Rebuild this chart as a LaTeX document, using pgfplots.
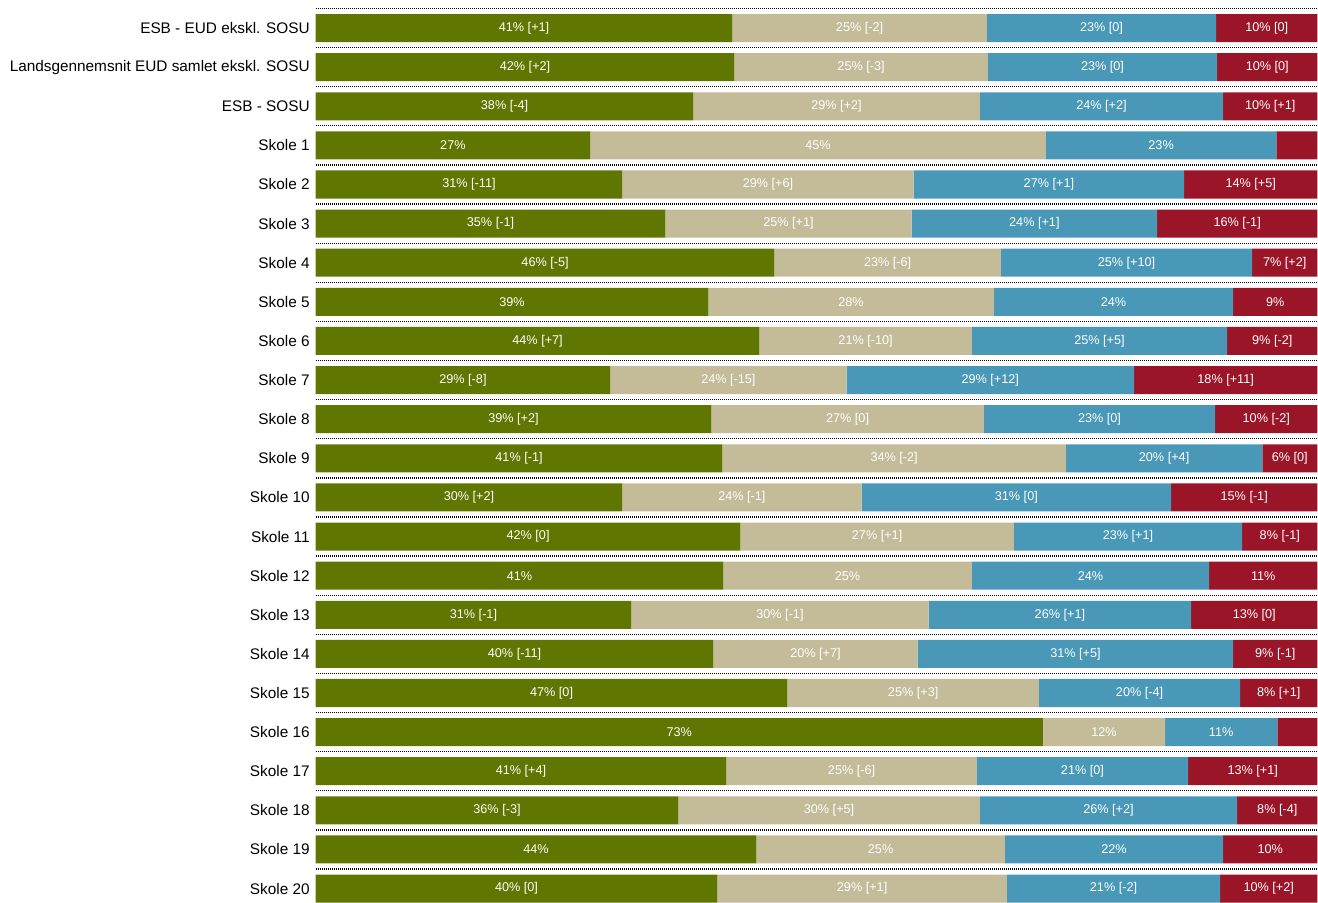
\documentclass[border=0pt]{standalone}
\usepackage{pgfplots}
\pgfplotsset{compat=1.18}
\usepackage{pgfplotstable}
\usepackage{fontspec}
\setmainfont{Liberation Sans}

\definecolor{cgreen}{RGB}{95,118,0}
\definecolor{ctan}{RGB}{196,188,153}
\definecolor{cblue}{RGB}{74,152,183}
\definecolor{cred}{RGB}{155,21,40}

% shares, labels as printed on the bars
\pgfplotstableread{
idx g t b r lg lt lb lr
0 41.6 25.4 22.9 10.1 {41\% [+1]} {25\% [-2]} {23\% [0]} {10\% [0]}
1 41.8 25.3 22.9 10.0 {42\% [+2]} {25\% [-3]} {23\% [0]} {10\% [0]}
2 37.7 28.6 24.3 9.4 {38\% [-4]} {29\% [+2]} {24\% [+2]} {10\% [+1]}
3 27.4 45.5 23.0 4.1 {27\%} {45\%} {23\%} {}
4 30.6 29.1 27.0 13.3 {31\% [-11]} {29\% [+6]} {27\% [+1]} {14\% [+5]}
5 34.9 24.6 24.5 16.0 {35\% [-1]} {25\% [+1]} {24\% [+1]} {16\% [-1]}
6 45.8 22.6 25.1 6.5 {46\% [-5]} {23\% [-6]} {25\% [+10]} {7\% [+2]}
7 39.2 28.5 23.9 8.4 {39\%} {28\%} {24\%} {9\%}
8 44.3 21.2 25.5 9.0 {44\% [+7]} {21\% [-10]} {25\% [+5]} {9\% [-2]}
9 29.4 23.6 28.7 18.3 {29\% [-8]} {24\% [-15]} {29\% [+12]} {18\% [+11]}
10 39.5 27.2 23.1 10.2 {39\% [+2]} {27\% [0]} {23\% [0]} {10\% [-2]}
11 40.6 34.3 19.6 5.5 {41\% [-1]} {34\% [-2]} {20\% [+4]} {6\% [0]}
12 30.6 23.9 30.9 14.6 {30\% [+2]} {24\% [-1]} {31\% [0]} {15\% [-1]}
13 42.4 27.3 22.8 7.5 {42\% [0]} {27\% [+1]} {23\% [+1]} {8\% [-1]}
14 40.7 24.8 23.7 10.8 {41\%} {25\%} {24\%} {11\%}
15 31.5 29.7 26.2 12.6 {31\% [-1]} {30\% [-1]} {26\% [+1]} {13\% [0]}
16 39.7 20.4 31.5 8.4 {40\% [-11]} {20\% [+7]} {31\% [+5]} {9\% [-1]}
17 47.1 25.1 20.1 7.7 {47\% [0]} {25\% [+3]} {20\% [-4]} {8\% [+1]}
18 72.6 12.2 11.2 4.0 {73\%} {12\%} {11\%} {}
19 41.0 25.0 21.1 12.9 {41\% [+4]} {25\% [-6]} {21\% [0]} {13\% [+1]}
20 36.2 30.1 25.7 8.0 {36\% [-3]} {30\% [+5]} {26\% [+2]} {8\% [-4]}
21 44.0 24.8 21.8 9.4 {44\%} {25\%} {22\%} {10\%}
22 40.1 28.9 21.3 9.7 {40\% [0]} {29\% [+1]} {21\% [-2]} {10\% [+2]}
}\datatable

\begin{document}
\begin{tikzpicture}
\begin{axis}[
  xbar stacked,
  scale only axis,
  width=750.75pt, height=676.5pt,
  bar width=21pt,
  xmin=0, xmax=100,
  ymin=-0.717, ymax=22.358,
  y dir=reverse,
  axis line style={draw=none},
  hide x axis,
  ytick={0,...,22},
  yticklabels={
    ESB - EUD ekskl. SOSU,
    Landsgennemsnit EUD samlet ekskl. SOSU,
    ESB - SOSU,
    Skole 1, Skole 2, Skole 3, Skole 4, Skole 5, Skole 6, Skole 7,
    Skole 8, Skole 9, Skole 10, Skole 11, Skole 12, Skole 13, Skole 14,
    Skole 15, Skole 16, Skole 17, Skole 18, Skole 19, Skole 20},
  yticklabel style={font=\fontsize{11.5}{13}\selectfont, anchor=east, xshift=-1pt},
  major tick length=0pt,
  minor tick length=0pt,
  minor ytick={-0.5,0.5,...,21.5},
  yminorgrids,
  minor grid style={black, line width=1pt, dash pattern=on 0.75pt off 0.75pt},
  nodes near coords,
  point meta=explicit symbolic,
  every node near coord/.append style={
    anchor=center, text=white,
    font=\fontsize{9.5}{11}\selectfont},
]
\addplot[fill=cgreen, draw=none] table[x=g, y=idx, meta=lg] {\datatable};
\addplot[fill=ctan, draw=none] table[x=t, y=idx, meta=lt] {\datatable};
\addplot[fill=cblue, draw=none] table[x=b, y=idx, meta=lb] {\datatable};
\addplot[fill=cred, draw=none] table[x=r, y=idx, meta=lr] {\datatable};
\end{axis}
\path (current bounding box.west) ++(-4pt,0);
\end{tikzpicture}
\end{document}
